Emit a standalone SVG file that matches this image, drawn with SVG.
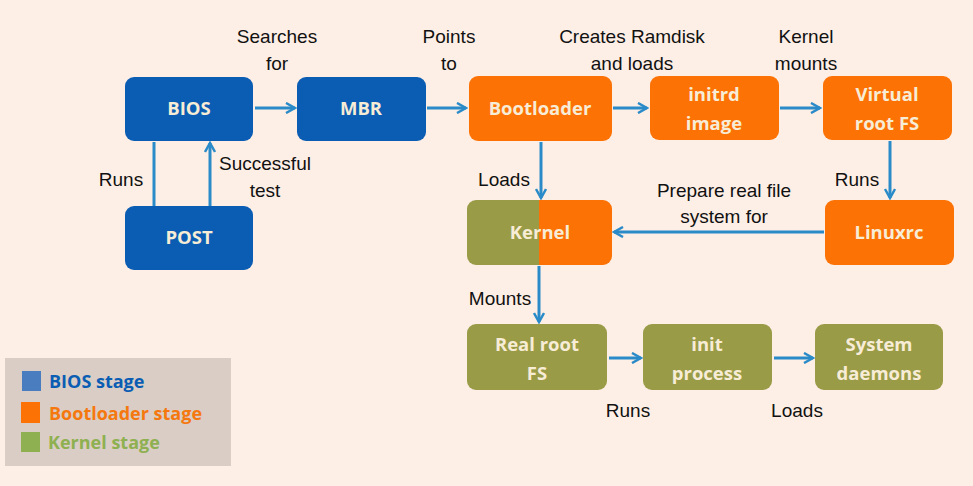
<svg xmlns="http://www.w3.org/2000/svg" width="973" height="486" viewBox="0 0 973 486">
<defs>
<style>
.n{stroke:none}
.bios{fill:#0a5db3}
.boot{fill:#fd7205}
.kern{fill:#9a9b47}
.nt{font-family:"Open Sans","Liberation Sans",sans-serif;font-weight:bold;font-size:18.5px;fill:#f7ecd6;text-anchor:middle}
.lb{font-family:"Liberation Sans",Arial,sans-serif;font-size:19px;fill:#111;text-anchor:middle}
.c{stroke:#2b8bc8;stroke-width:3;fill:none}
.lg{font-family:"Open Sans","Liberation Sans",sans-serif;font-weight:bold;font-size:18px}
</style>
<marker id="ah" viewBox="0 0 12 12" refX="10" refY="6" markerWidth="12" markerHeight="12" markerUnits="userSpaceOnUse" orient="auto">
<path d="M1,1 L10,6 L1,11" fill="none" stroke="#2b8bc8" stroke-width="2.5"/>
</marker>
<clipPath id="kclip"><rect x="467" y="200" width="145" height="65" rx="9"/></clipPath>
</defs>
<rect width="973" height="486" fill="#fdefe6"/>

<g id="connectors">
<line class="c" x1="255" y1="108" x2="295" y2="108" marker-end="url(#ah)"/>
<line class="c" x1="427" y1="108" x2="466" y2="108" marker-end="url(#ah)"/>
<line class="c" x1="613" y1="108" x2="647" y2="108" marker-end="url(#ah)"/>
<line class="c" x1="780" y1="108" x2="820" y2="108" marker-end="url(#ah)"/>
<line class="c" x1="154" y1="206" x2="154" y2="142"/>
<line class="c" x1="210" y1="206" x2="210" y2="143" marker-end="url(#ah)"/>
<line class="c" x1="541" y1="142" x2="541" y2="198" marker-end="url(#ah)"/>
<line class="c" x1="890" y1="141" x2="890" y2="198" marker-end="url(#ah)"/>
<line class="c" x1="824" y1="232" x2="614" y2="232" marker-end="url(#ah)"/>
<line class="c" x1="539" y1="266" x2="539" y2="322" marker-end="url(#ah)"/>
<line class="c" x1="609" y1="358" x2="641" y2="358" marker-end="url(#ah)"/>
<line class="c" x1="774" y1="358" x2="813" y2="358" marker-end="url(#ah)"/>
</g>

<g id="labels">
<text class="lb" x="277" y="43">Searches</text>
<text class="lb" x="277" y="70">for</text>
<text class="lb" x="449" y="43">Points</text>
<text class="lb" x="449" y="70">to</text>
<text class="lb" x="632" y="43">Creates Ramdisk</text>
<text class="lb" x="632" y="70">and loads</text>
<text class="lb" x="806" y="43">Kernel</text>
<text class="lb" x="806" y="70">mounts</text>
<text class="lb" x="121" y="186">Runs</text>
<text class="lb" x="265" y="170">Successful</text>
<text class="lb" x="265" y="197">test</text>
<text class="lb" x="504" y="186">Loads</text>
<text class="lb" x="724" y="197">Prepare real file</text>
<text class="lb" x="724" y="223">system for</text>
<text class="lb" x="857" y="186">Runs</text>
<text class="lb" x="500" y="305">Mounts</text>
<text class="lb" x="628" y="417">Runs</text>
<text class="lb" x="797" y="417">Loads</text>
</g>

<g id="bios"><rect class="bios" x="125" y="77" width="128" height="64" rx="9"/><text class="nt" x="189" y="115">BIOS</text></g>
<g id="post"><rect class="bios" x="125" y="206" width="128" height="64" rx="9"/><text class="nt" x="189" y="244">POST</text></g>
<g id="mbr"><rect class="bios" x="297" y="77" width="129" height="64" rx="9"/><text class="nt" x="361" y="115">MBR</text></g>
<g id="bootloader"><rect class="boot" x="469" y="76" width="143" height="65" rx="9"/><text class="nt" x="540" y="115">Bootloader</text></g>
<g id="initrd"><rect class="boot" x="650" y="76" width="129" height="64" rx="9"/><text class="nt" x="714" y="101">initrd</text><text class="nt" x="714" y="130">image</text></g>
<g id="virtualfs"><rect class="boot" x="823" y="76" width="129" height="64" rx="9"/><text class="nt" x="887" y="101">Virtual</text><text class="nt" x="887" y="130">root FS</text></g>
<g id="linuxrc"><rect class="boot" x="825" y="200" width="129" height="65" rx="9"/><text class="nt" x="889" y="239">Linuxrc</text></g>
<g id="kernel"><g clip-path="url(#kclip)"><rect class="kern" x="467" y="200" width="73" height="65"/><rect class="boot" x="539" y="200" width="73" height="65"/></g><text class="nt" x="540" y="239">Kernel</text></g>
<g id="realroot"><rect class="kern" x="467" y="324" width="140" height="66" rx="9"/><text class="nt" x="537" y="351">Real root</text><text class="nt" x="537" y="380">FS</text></g>
<g id="init"><rect class="kern" x="643" y="324" width="129" height="66" rx="9"/><text class="nt" x="707" y="351">init</text><text class="nt" x="707" y="380">process</text></g>
<g id="daemons"><rect class="kern" x="815" y="324" width="128" height="66" rx="9"/><text class="nt" x="879" y="351">System</text><text class="nt" x="879" y="380">daemons</text></g>

<g id="legend">
<rect x="5" y="358" width="226" height="108" fill="#d9cdc5"/>
<rect x="22" y="371" width="19" height="20" fill="#4a7cc0"/>
<rect x="21" y="402" width="19" height="21" fill="#fd7205"/>
<rect x="21" y="432" width="19" height="20" fill="#8fb050"/>
<text class="lg" x="49" y="388" fill="#0a5db3">BIOS stage</text>
<text class="lg" x="49" y="420" fill="#f5780f">Bootloader stage</text>
<text class="lg" x="48" y="449" fill="#8fb050">Kernel stage</text>
</g>
</svg>
